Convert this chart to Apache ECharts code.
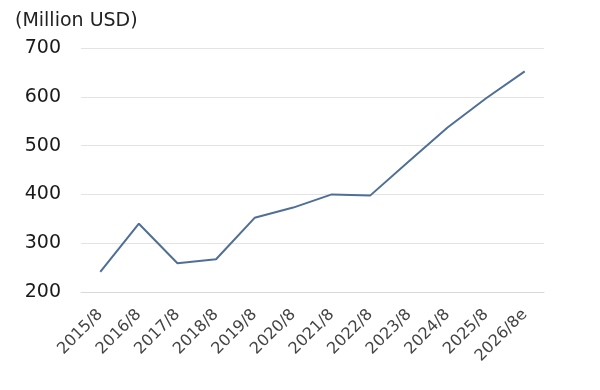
<!DOCTYPE html>
<html><head><meta charset="utf-8">
<script src="https://cdn.jsdelivr.net/npm/echarts@6/dist/echarts.min.js"></script>
<style>html,body{margin:0;padding:0;background:#fff}#c{width:600px;height:390px}</style>
</head><body><div id="c"></div>
<script>
const categories = ["2015/8","2016/8","2017/8","2018/8","2019/8","2020/8","2021/8","2022/8","2023/8","2024/8","2025/8","2026/8e"];
const values = [241, 340, 259, 267, 352, 373, 400, 398, 468, 537, 597, 652];
const yTicks = [200, 300, 400, 500, 600, 700];
const unitLabel = "(Million USD)";

const chart = echarts.init(document.getElementById('c'), null, {renderer:'canvas'});
const font = "'DejaVu Sans', Verdana, sans-serif";
chart.setOption({
  animation: false,
  backgroundColor: '#ffffff',
  title: { text: unitLabel, left: 10, top: 7, textStyle: { fontFamily: font, fontSize: 19, fontWeight: 'normal', color: '#222' } },
  grid: { left: 81, right: 56, top: 48, bottom: 98 },
  xAxis: {
    type: 'category', data: categories, boundaryGap: true,
    axisLine: { lineStyle: { color: '#d9d9d9', width: 1 } },
    axisTick: { inside: true, length: 5, lineStyle: { color: '#d9d9d9' } },
    axisLabel: { rotate: 45, fontFamily: font, fontSize: 16, color: '#444', margin: 20, interval: 0 }
  },
  yAxis: {
    type: 'value', min: yTicks[0], max: yTicks[yTicks.length-1], interval: 100,
    axisLine: { show: false }, axisTick: { show: false },
    splitLine: { lineStyle: { color: '#e3e3e3', width: 1 } },
    axisLabel: { fontFamily: font, fontSize: 19, color: '#1a1a1a', margin: 20 }
  },
  series: [{
    type: 'line', data: values, symbol: 'none',
    lineStyle: { color: '#4f6f96', width: 2 }
  }]
});
</script></body></html>
